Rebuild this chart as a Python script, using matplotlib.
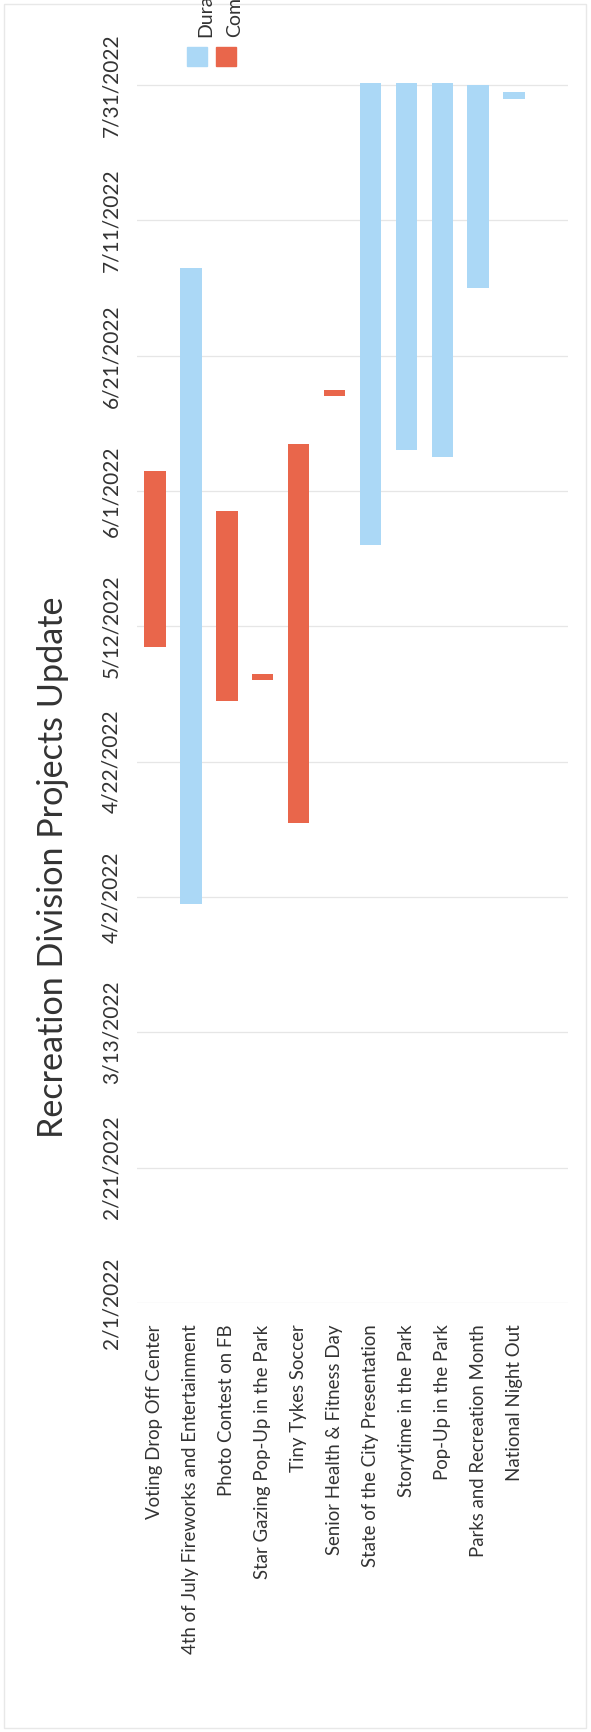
import matplotlib
matplotlib.use('Agg')
import matplotlib.pyplot as plt
import matplotlib.dates as mdates
from matplotlib.patches import Rectangle
from datetime import datetime

plt.rcParams['font.family'] = ['Lato', 'DejaVu Sans']

# ---------------- data ----------------
title = "Recreation Division Projects Update"
categories = [
    "Voting Drop Off Center",
    "4th of July Fireworks and Entertainment",
    "Photo Contest on FB",
    "Star Gazing Pop-Up in the Park",
    "Tiny Tykes Soccer",
    "Senior Health & Fitness Day",
    "State of the City Presentation",
    "Storytime in the Park",
    "Pop-Up in the Park",
    "Parks and Recreation Month",
    "National Night Out",
    "",
]
start_dates = ["5/9/2022", "4/1/2022", "5/1/2022", "5/4/2022", "4/13/2022", "6/15/2022",
               "5/24/2022", "6/7/2022", "6/6/2022", "7/1/2022", "7/29/2022"]
end_dates = ["6/4/2022", "7/4/2022", "5/29/2022", "5/5/2022", "6/8/2022", "6/16/2022",
             "8/1/2022", "8/1/2022", "8/1/2022", "7/31/2022", "7/30/2022"]
status = ["Completed", "Duration", "Completed", "Completed", "Completed", "Completed",
          "Duration", "Duration", "Duration", "Duration", "Duration"]
legend_labels = ["Duration", "Completed"]
date_ticks = ["2/1/2022", "2/21/2022", "3/13/2022", "4/2/2022", "4/22/2022",
              "5/12/2022", "6/1/2022", "6/21/2022", "7/11/2022", "7/31/2022"]

# ---------------- style ----------------
colors = {"Duration": "#ABD8F6", "Completed": "#E9664B"}
text_color = "#333333"


def d2n(s):
    return mdates.date2num(datetime.strptime(s, "%m/%d/%Y"))


W, H = 591, 1732
fig = plt.figure(figsize=(W / 100, H / 100), dpi=100)
fig.patch.set_facecolor("white")

ax = fig.add_axes([137 / W, (H - 1303) / H, 431 / W, (1303 - 83) / H])

xs = list(range(len(start_dates)))
starts = [d2n(s) for s in start_dates]
ends = [d2n(s) for s in end_dates]
ax.bar(xs, [e - s for s, e in zip(starts, ends)], bottom=starts, width=0.6,
       color=[colors[k] for k in status], zorder=3)

ticks = [d2n(s) for s in date_ticks]
ax.set_ylim(ticks[0], ticks[-1] + 0.3)
ax.set_xlim(-0.5, len(categories) - 0.5)
ax.set_yticks(ticks)
ax.set_yticklabels(date_ticks, rotation=90, va="center", fontsize=15, color=text_color)
ax.set_xticks(range(len(categories)))
ax.set_xticklabels(categories, rotation=90, ha="center", va="top", fontsize=13.4, color=text_color)
ax.tick_params(axis="y", length=0, pad=11)
ax.tick_params(axis="x", length=0, pad=15.5)
ax.grid(axis="y", color="#e6e6e6", linewidth=0.9, zorder=0)
ax.grid(axis="x", visible=False)
for sp in ax.spines.values():
    sp.set_visible(False)
ax.set_facecolor("none")

# title (rotated, like the scanned page)
fig.text(63 / W, 1 - 867 / H, title, rotation=90, rotation_mode="anchor",
         ha="center", va="baseline", fontsize=24.6, color=text_color)

# legend (rotated)
sq_w, sq_h = 20, 19
for i, lab in enumerate(legend_labels):
    x0 = 187 + i * 29
    fig.add_artist(Rectangle((x0 / W, 1 - 66 / H), sq_w / W, sq_h / H,
                             transform=fig.transFigure, color=colors[lab]))
    fig.text((x0 + 24) / W, 1 - 37 / H, lab, rotation=90, rotation_mode="anchor",
             ha="left", va="baseline", fontsize=14, color=text_color)

# faint page border
fig.add_artist(Rectangle((4 / W, 4 / H), (586 - 4) / W, (H - 8) / H, transform=fig.transFigure,
                         fill=False, edgecolor="#e8e8e8", linewidth=1))

fig.savefig("out.png", dpi=100)
